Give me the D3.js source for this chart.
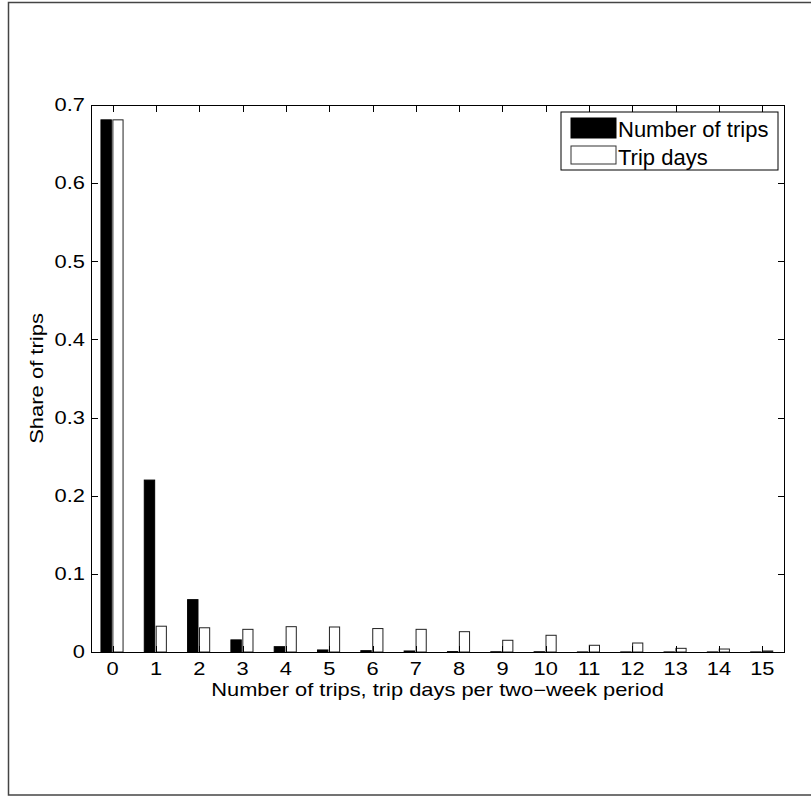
<!DOCTYPE html>
<meta charset="utf-8">
<style>

body {
  margin: 0;
  background: #fff;
}

text {
  font-family: "Liberation Sans", Arial, Helvetica, sans-serif;
  fill: #000;
}

.axis path,
.axis line {
  stroke: #000;
  stroke-width: 1px;
  shape-rendering: crispEdges;
}

</style>
<body>
<script src="https://cdn.jsdelivr.net/npm/d3@7"></script>
<script>

var categories = d3.range(0, 16),
    seriesNames = ["Number of trips", "Trip days"],
    trips = [0.681, 0.22, 0.067, 0.0155, 0.0068, 0.0026, 0.0017, 0.0013, 0.0005, 0.0003, 0.0003, 0.0001, 0.0001, 0.0001, 0.0001, 0.0001],
    tripDays = [0.681, 0.033, 0.031, 0.029, 0.0324, 0.032, 0.030, 0.029, 0.026, 0.015, 0.0214, 0.0086, 0.0115, 0.0047, 0.0038, 0.0013],
    yTicks = [0, 0.1, 0.2, 0.3, 0.4, 0.5, 0.6, 0.7],
    yTickLabels = ["0", "0.1", "0.2", "0.3", "0.4", "0.5", "0.6", "0.7"];

var width = 811,
    height = 796,
    boxLeft = 91, boxRight = 784, boxTop = 105, boxBottom = 652,
    sx = 1.25,          // the labels in the picture are stretched sideways
    fontSize = 17.5,
    tickLen = 6.5;

var x = d3.scaleLinear()
    .domain([-0.5, 15.5])
    .range([boxLeft, boxRight]);

var y = d3.scaleLinear()
    .domain([0, 0.7])
    .range([boxBottom, boxTop]);

var svg = d3.select("body").append("svg")
    .attr("width", width)
    .attr("height", height);

// outer figure frame
svg.append("rect")
    .attr("x", 8.5)
    .attr("y", 2.5)
    .attr("width", 810)
    .attr("height", 792.5)
    .attr("fill", "none")
    .attr("stroke", "#444")
    .attr("stroke-width", 1.5);

// bars
var bars = svg.append("g");

bars.selectAll(".trips")
    .data(trips)
  .enter().append("rect")
    .attr("class", "trips")
    .attr("x", function(d, i) { return x(i - 0.27); })
    .attr("width", function(d, i) { return x(i - 0.03) - x(i - 0.27); })
    .attr("y", function(d) { return y(d); })
    .attr("height", function(d) { return y(0) - y(d); })
    .attr("fill", "#000")
    .attr("stroke", "#000")
    .attr("stroke-width", 1);

bars.selectAll(".days")
    .data(tripDays)
  .enter().append("rect")
    .attr("class", "days")
    .attr("x", function(d, i) { return x(i + 0.005); })
    .attr("width", function(d, i) { return x(i + 0.24) - x(i + 0.005); })
    .attr("y", function(d) { return y(d); })
    .attr("height", function(d) { return y(0) - y(d); })
    .attr("fill", "#fff")
    .attr("stroke", "#222")
    .attr("stroke-width", 1);

// axes box with inward ticks on all four sides
svg.append("g")
    .attr("class", "axis")
    .attr("transform", "translate(0," + boxBottom + ")")
    .call(d3.axisBottom(x).tickValues(categories).tickSizeInner(-tickLen).tickSizeOuter(0).tickFormat(""));

svg.append("g")
    .attr("class", "axis")
    .attr("transform", "translate(0," + boxTop + ")")
    .call(d3.axisTop(x).tickValues(categories).tickSizeInner(-tickLen).tickSizeOuter(0).tickFormat(""));

svg.append("g")
    .attr("class", "axis")
    .attr("transform", "translate(" + boxLeft + ",0)")
    .call(d3.axisLeft(y).tickValues(yTicks).tickSizeInner(-tickLen).tickSizeOuter(0).tickFormat(""));

svg.append("g")
    .attr("class", "axis")
    .attr("transform", "translate(" + boxRight + ",0)")
    .call(d3.axisRight(y).tickValues(yTicks).tickSizeInner(-tickLen).tickSizeOuter(0).tickFormat(""));

svg.selectAll(".axis text").remove();

function stretched(px, py, txt, anchor) {
  return svg.append("text")
      .attr("transform", "translate(" + px + "," + py + ") scale(" + sx + ",1)")
      .attr("text-anchor", anchor)
      .style("font-size", fontSize + "px")
      .text(txt);
}

// tick labels
categories.forEach(function(c) {
  stretched(x(c), 675, String(c), "middle");
});

yTicks.forEach(function(t, i) {
  stretched(85, y(t) + 6.3, yTickLabels[i], "end");
});

// axis titles
stretched((boxLeft + boxRight) / 2, 696, "Number of trips, trip days per two\u2212week period", "middle");

svg.append("text")
    .attr("transform", "translate(43," + ((boxTop + boxBottom) / 2) + ") rotate(-90) scale(1,0.8)")
    .attr("text-anchor", "middle")
    .style("font-size", "22px")
    .text("Share of trips");

// legend
var legend = svg.append("g")
    .attr("transform", "translate(561,112)");

legend.append("rect")
    .attr("width", 217)
    .attr("height", 58)
    .attr("fill", "#fff")
    .attr("stroke", "#000")
    .attr("stroke-width", 1);

var entries = legend.selectAll(".legend-entry")
    .data(seriesNames)
  .enter().append("g")
    .attr("class", "legend-entry")
    .attr("transform", function(d, i) { return "translate(10," + (6 + i * 28) + ")"; });

entries.append("rect")
    .attr("width", 45)
    .attr("height", function(d, i) { return i ? 18 : 20; })
    .attr("fill", function(d, i) { return i ? "#fff" : "#000"; })
    .attr("stroke", function(d, i) { return i ? "#333" : "#000"; })
    .attr("stroke-width", 1);

entries.append("text")
    .attr("x", 47)
    .attr("y", 19)
    .style("font-size", "22px")
    .text(function(d) { return d; });

</script>
